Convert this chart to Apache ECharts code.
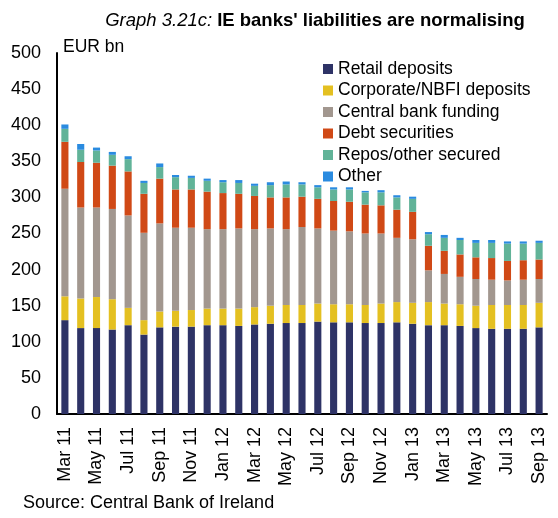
<!DOCTYPE html>
<html>
<head>
<meta charset="utf-8">
<script src="https://cdn.jsdelivr.net/npm/echarts@6/dist/echarts.min.js"></script>
<style>
  html, body { margin: 0; padding: 0; background: #fff; }
  #chart { width: 558px; height: 518px; }
</style>
</head>
<body>
<div id="chart"></div>
<script>
// 月份 Mar 11 - Sep 13
const months = ['Mar 11', 'Apr 11', 'May 11', 'Jun 11', 'Jul 11', 'Aug 11', 'Sep 11', 'Oct 11', 'Nov 11', 'Dec 11',
  'Jan 12', 'Feb 12', 'Mar 12', 'Apr 12', 'May 12', 'Jun 12', 'Jul 12', 'Aug 12', 'Sep 12', 'Oct 12', 'Nov 12', 'Dec 12',
  'Jan 13', 'Feb 13', 'Mar 13', 'Apr 13', 'May 13', 'Jun 13', 'Jul 13', 'Aug 13', 'Sep 13'];

const retail = [130, 119, 119, 117, 123, 110, 120, 121, 121, 123, 123, 122, 124, 125, 126, 126, 128, 127, 127, 126, 126, 127, 125, 123, 123, 122, 119, 118, 118, 118, 120];
const corporate = [33, 41, 43, 42, 24, 20, 22, 22, 23, 23, 23, 24, 24, 25, 25, 25, 25, 25, 25, 25, 27, 28, 29, 32, 30, 30, 31, 33, 33, 33, 34];
const centralBank = [149, 126, 124, 125, 128, 121, 122, 115, 114, 110, 110, 111, 108, 107, 105, 108, 104, 102, 101, 99, 97, 89, 88, 44, 41, 38, 37, 35, 34, 35, 33];
const debt = [65, 63, 62, 60, 61, 54, 62, 53, 53, 52, 50, 48, 46, 43, 44, 42, 41, 41, 41, 40, 39, 39, 38, 34, 32, 31, 30, 30, 27, 27, 27];
const repos = [18, 17, 17, 15, 17, 15, 16, 17, 16, 15, 15, 15, 14, 17, 18, 17, 16, 16, 17, 17, 18, 17, 18, 16, 18, 20, 20, 21, 24, 23, 23];
const other = [6, 8, 4, 4, 4, 3, 5, 3, 3, 3, 3, 4, 3, 4, 4, 3, 3, 3, 3, 2, 3, 3, 3, 3, 4, 3, 4, 4, 3, 3, 3];

const yTicks = [0, 500, 50]; // min, max, interval

const font = 'Liberation Sans, Arial, sans-serif';

let chart = echarts.init(document.getElementById('chart'));

function bar(name, data, color) {
  return {
    name: name,
    type: 'bar',
    stack: 'total',
    barWidth: '45%',
    itemStyle: { color: color },
    data: data
  };
}

let option = {
  animation: false,
  textStyle: { fontFamily: font, color: '#000' },
  title: {
    text: '{i|Graph 3.21c:} {b|IE banks\' liabilities are normalising}',
    left: 310,
    textAlign: 'center',
    top: 6,
    textStyle: {
      fontWeight: 'normal',
      rich: {
        i: { fontStyle: 'italic', fontWeight: 'normal', fontSize: 18.5, fontFamily: font, color: '#000' },
        b: { fontWeight: 'bold', fontSize: 18.5, fontFamily: font, color: '#000' }
      }
    }
  },
  legend: {
    orient: 'vertical',
    left: 318,
    top: 55,
    itemWidth: 10,
    itemHeight: 10,
    itemGap: 3.5,
    icon: 'rect',
    textStyle: { fontSize: 17.5, fontFamily: font, color: '#000', lineHeight: 17.5 },
    data: ['Retail deposits', 'Corporate/NBFI deposits', 'Central bank funding', 'Debt securities', 'Repos/other secured', 'Other']
  },
  graphic: [
    { type: 'text', left: 63, top: 38, style: { text: 'EUR bn', fontSize: 17.5, fontFamily: font, fill: '#000' } },
    { type: 'text', left: 23, top: 494, style: { text: 'Source: Central Bank of Ireland', fontSize: 18, fontFamily: font, fill: '#000' } }
  ],
  grid: { left: 57, right: 11, top: 53, bottom: 104 },
  xAxis: {
    type: 'category',
    data: months,
    axisLine: { lineStyle: { color: '#000', width: 2 } },
    axisTick: { show: false },
    axisLabel: { rotate: 90, interval: 1, margin: 13, fontSize: 18, fontFamily: font, color: '#000' }
  },
  yAxis: {
    type: 'value',
    min: yTicks[0],
    max: yTicks[1],
    interval: yTicks[2],
    axisLine: { show: true, lineStyle: { color: '#000', width: 2 } },
    axisTick: { show: false },
    splitLine: { show: false },
    axisLabel: { margin: 16, fontSize: 18, fontFamily: font, color: '#000' }
  },
  series: [
    bar('Retail deposits', retail, '#2E3366'),
    bar('Corporate/NBFI deposits', corporate, '#E4C021'),
    bar('Central bank funding', centralBank, '#A2978F'),
    bar('Debt securities', debt, '#D04916'),
    bar('Repos/other secured', repos, '#61B398'),
    bar('Other', other, '#2A8BE0')
  ]
};

option && chart.setOption(option);
</script>
</body>
</html>
